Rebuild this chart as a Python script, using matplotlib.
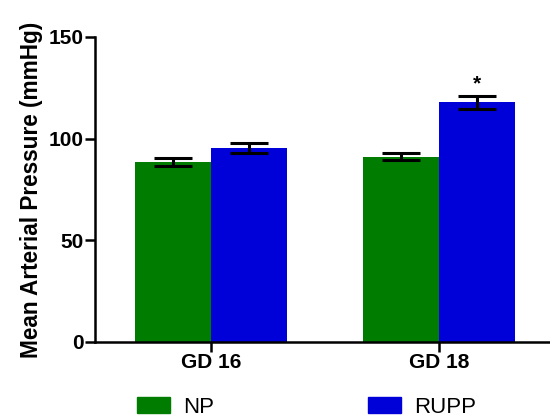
import matplotlib
matplotlib.use("Agg")
import matplotlib.pyplot as plt
import numpy as np
from matplotlib.patches import Patch

plt.rcParams['font.family'] = ['Liberation Sans', 'DejaVu Sans']

# Data
groups = ["GD 16", "GD 18"]
np_mean = [88.5, 91.2]
np_err = [2.0, 1.5]
rupp_mean = [95.5, 118.0]
rupp_err = [2.4, 3.2]

x = np.arange(len(groups))
width = 1 / 3

fig = plt.figure(figsize=(5.5, 4.17), dpi=100)
ax = fig.add_axes([0.1727, 0.1799, 0.8273, 0.7314])

ekw = dict(elinewidth=2.2, capthick=2.2, capsize=14, ecolor='black')
ax.bar(x - width / 2, np_mean, width, yerr=np_err, color='#007d00',
       error_kw=ekw, zorder=2)
ax.bar(x + width / 2, rupp_mean, width, yerr=rupp_err, color='#0000d8',
       error_kw=ekw, zorder=2)

# significance marker
ax.text(x[1] + width / 2, rupp_mean[1] + rupp_err[1] + 1, "*",
        ha='center', va='bottom', fontsize=15, fontweight='bold')

ax.set_xlim(-0.509, 1.487)
ax.set_ylim(0, 150)
ax.set_yticks([0, 50, 100, 150])
ax.set_xticks(x)
ax.set_xticklabels(groups, fontsize=15, fontweight='bold')
for lbl in ax.get_yticklabels():
    lbl.set_fontsize(15)
    lbl.set_fontweight('bold')
ax.set_ylabel("Mean Arterial Pressure (mmHg)", fontsize=16.3,
              fontweight='bold', labelpad=4)

for s in ['top', 'right']:
    ax.spines[s].set_visible(False)
for s in ['left', 'bottom']:
    ax.spines[s].set_linewidth(1.8)
ax.tick_params(width=1.8, length=7, direction='out', pad=1)

handles = [Patch(color='#007d00', label='NP'), Patch(color='#0000d8', label='RUPP')]
fig.legend(handles=handles, loc='lower left', bbox_to_anchor=(0.212, -0.05),
           ncol=2, frameon=False, fontsize=16, handlelength=1.5,
           handleheight=0.7, columnspacing=6.9, handletextpad=0.6)

fig.savefig("out.png", dpi=100)
